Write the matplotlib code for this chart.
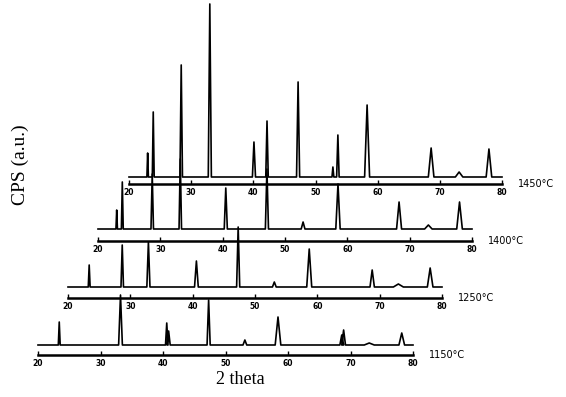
import matplotlib
matplotlib.use("Agg")
import matplotlib.pyplot as plt

# peak positions (2 theta), heights (px above baseline) and half widths for each pattern
temps = ["1150°C", "1250°C", "1400°C", "1450°C"]

pos_1150 = [23.4, 33.2, 40.6, 40.9, 47.3, 53.1, 58.4, 68.6, 68.9, 73.0, 78.2]
ht_1150 = [23, 50, 22, 14, 45, 5, 28, 10, 15, 2, 12]
wd_1150 = [0.15, 0.3, 0.2, 0.25, 0.25, 0.3, 0.45, 0.3, 0.3, 0.8, 0.45]

pos_1250 = [23.4, 28.7, 32.9, 40.6, 47.3, 53.1, 58.7, 68.8, 73.0, 78.1]
ht_1250 = [22, 42, 45, 26, 60, 5, 38, 17, 3, 19]
wd_1250 = [0.15, 0.2, 0.25, 0.3, 0.25, 0.3, 0.4, 0.35, 0.8, 0.45]

pos_1400 = [23.0, 23.9, 28.7, 33.2, 40.5, 47.1, 52.9, 58.5, 68.3, 73.0, 78.0]
ht_1400 = [19, 47, 55, 70, 41, 60, 7, 45, 27, 4, 27]
wd_1400 = [0.12, 0.15, 0.2, 0.2, 0.25, 0.25, 0.3, 0.35, 0.4, 0.6, 0.45]

pos_1450 = [23.0, 23.9, 28.4, 33.0, 40.1, 42.2, 47.2, 52.8, 53.6, 58.3, 68.6, 73.1, 77.9]
ht_1450 = [24, 65, 112, 173, 35, 56, 95, 10, 42, 72, 29, 5, 28]
wd_1450 = [0.12, 0.15, 0.2, 0.25, 0.25, 0.2, 0.25, 0.15, 0.2, 0.4, 0.45, 0.6, 0.45]

patterns = [
    (pos_1150, ht_1150, wd_1150),
    (pos_1250, ht_1250, wd_1250),
    (pos_1400, ht_1400, wd_1400),
    (pos_1450, ht_1450, wd_1450),
]

# layout of each stacked axis in pixels: left, right, axis line y, gap to baseline
W, H = 566, 397
layout = [
    (38, 413, 355, 10),
    (68, 442, 298, 11),
    (98, 472, 241, 12),
    (129, 502, 184, 7),
]


def profile(pos, ht, wd):
    xs = [20.0]
    ys = [0.0]
    for p, h, w in zip(pos, ht, wd):
        xs += [p - w, p, p + w]
        ys += [0.0, h, 0.0]
    xs.append(80.0)
    ys.append(0.0)
    return xs, ys


fig = plt.figure(figsize=(W / 100, H / 100), dpi=100)

for (pos, ht, wd), (x0, x1, ay, gap), label in zip(patterns, layout, temps):
    ax = fig.add_axes([x0 / W, 1 - ay / H, (x1 - x0) / W, ay / H])
    ax.patch.set_alpha(0)
    xs, ys = profile(pos, ht, wd)
    ax.plot(xs, ys, color="black", lw=1.2, clip_on=False)
    ax.set_xlim(20, 80)
    ax.set_ylim(-gap, ay - gap)
    for s in ["top", "right", "left"]:
        ax.spines[s].set_visible(False)
    ax.spines["bottom"].set_linewidth(1.8)
    ax.set_yticks([])
    ax.set_xticks([20, 30, 40, 50, 60, 70, 80])
    ax.tick_params(axis="x", direction="in", length=3, width=1, pad=3,
                   labelsize=5.5)
    for t in ax.get_xticklabels():
        t.set_fontweight("bold")
    ax.text(82.5, -gap, label, fontsize=7, ha="left", va="center")

fig.text(20 / W, 1 - 165 / H, "CPS (a.u.)", rotation=90, ha="center", va="center",
         fontsize=14, family="Liberation Serif")
fig.text(240 / W, 1 - 380 / H, "2 theta", ha="center", va="center",
         fontsize=13, family="Liberation Serif")

fig.savefig("out.png", dpi=100)
